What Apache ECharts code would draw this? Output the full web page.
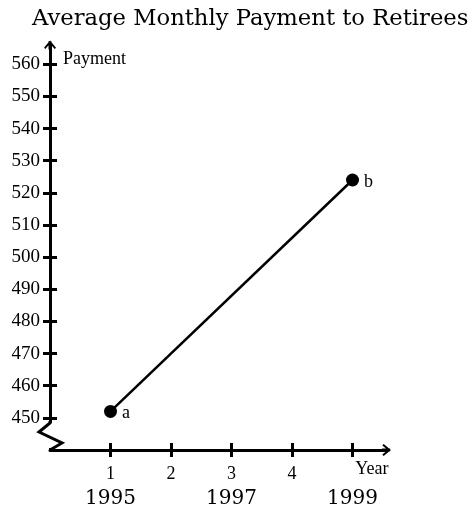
<!DOCTYPE html>
<html>
  <head>
    <meta charset="utf-8" />
    <title>Average Monthly Payment to Retirees</title>
    <style>
      html, body { margin: 0; padding: 0; background: #fff; }
      #main { width: 469px; height: 514px; }
    </style>
  </head>
  <body>
    <div id="main"></div>
    <script src="https://cdn.jsdelivr.net/npm/echarts@6/dist/echarts.min.js"></script>
    <script>
      // data
      var pointX = [1, 5];
      var payments = [452, 524];
      var pointNames = ["a", "b"];

      var xTicks = [1, 2, 3, 4, 5];
      var xTickText = ["1", "2", "3", "4", ""];
      var yearText = ["1995", "", "1997", "", "1999"];
      var yTicks = [450, 460, 470, 480, 490, 500, 510, 520, 530, 540, 550, 560];

      var serif = "Liberation Serif";
      var bookFont = "DejaVu Serif";

      // open arrow head with a short stem, pointing up
      var arrowPath =
        "path://M0,72 L60,0 L120,72 L106,86 L60,30 L14,86 Z M45,8 L75,8 L75,90 L45,90 Z";

      var dom = document.getElementById("main");
      var myChart = echarts.init(dom);

      var xRange = { min: 0, max: 5.56 };
      var yRange = { min: 440, max: 566 };

      var option = {
        animation: false,
        title: {
          text: "Average Monthly Payment to Retirees",
          left: 27,
          top: 3,
          textStyle: {
            fontFamily: bookFont,
            fontSize: 22.7,
            fontWeight: "normal",
            color: "#000",
          },
        },
        grid: {
          left: 50,
          right: 82.6,
          top: 45,
          bottom: 64,
          containLabel: false,
        },
        xAxis: [
          {
            type: "value",
            min: xRange.min,
            max: xRange.max,
            splitLine: { show: false },
            name: "Year",
            nameLocation: "end",
            nameGap: -14.5,
            nameMoveOverlap: false,
            nameTextStyle: {
              fontFamily: serif,
              fontSize: 18,
              color: "#000",
              align: "center",
              verticalAlign: "top",
              padding: [10, 0, 0, 0],
            },
            axisLine: {
              onZero: false,
              symbol: ["none", arrowPath],
              symbolSize: [12, 9],
              lineStyle: { color: "#000", width: 3 },
            },
            axisTick: {
              customValues: xTicks,
              length: 7,
              lineStyle: { color: "#000", width: 3 },
            },
            axisLabel: {
              customValues: xTicks,
              margin: 14,
              formatter: function (value) {
                var i = xTicks.indexOf(value);
                if (i < 0) return "";
                return "{n|" + (xTickText[i] || " ") + "}\n{y|" + (yearText[i] || " ") + "}";
              },
              rich: {
                n: { fontFamily: serif, fontSize: 18, color: "#000", lineHeight: 20 },
                y: { fontFamily: bookFont, fontSize: 20, color: "#000", lineHeight: 29 },
              },
            },
          },
          {
            // inner half of the ticks
            type: "value",
            position: "bottom",
            min: xRange.min,
            max: xRange.max,
            splitLine: { show: false },
            axisLine: { show: false, onZero: false },
            axisLabel: { show: false },
            axisTick: {
              customValues: xTicks,
              inside: true,
              length: 7,
              lineStyle: { color: "#000", width: 3 },
            },
          },
        ],
        yAxis: [
          {
            type: "value",
            min: yRange.min,
            max: yRange.max,
            splitLine: { show: false },
            name: "Payment",
            nameLocation: "end",
            nameGap: -14.5,
            nameMoveOverlap: false,
            nameTextStyle: {
              fontFamily: serif,
              fontSize: 18,
              color: "#000",
              align: "left",
              verticalAlign: "middle",
              padding: [0, 0, 0, 13],
            },
            axisLine: {
              onZero: false,
              symbol: ["none", arrowPath],
              symbolSize: [12, 9],
              lineStyle: { color: "#000", width: 3 },
            },
            axisTick: {
              customValues: yTicks,
              length: 7,
              lineStyle: { color: "#000", width: 3 },
            },
            axisLabel: {
              customValues: yTicks,
              margin: 10,
              fontFamily: serif,
              fontSize: 19,
              color: "#000",
            },
          },
          {
            type: "value",
            position: "left",
            min: yRange.min,
            max: yRange.max,
            splitLine: { show: false },
            axisLine: { show: false, onZero: false },
            axisLabel: { show: false },
            axisTick: {
              customValues: yTicks,
              inside: true,
              length: 7,
              lineStyle: { color: "#000", width: 3 },
            },
          },
        ],
        series: [
          {
            type: "line",
            xAxisIndex: 0,
            yAxisIndex: 0,
            data: pointX.map(function (x, i) {
              return [x, payments[i]];
            }),
            symbol: "circle",
            symbolSize: 13,
            showAllSymbol: true,
            itemStyle: { color: "#000" },
            lineStyle: { color: "#000", width: 2.5 },
            label: {
              show: true,
              position: "right",
              distance: 5,
              offset: [0, 2],
              fontFamily: serif,
              fontSize: 18,
              color: "#000",
              formatter: function (p) {
                return pointNames[p.dataIndex];
              },
            },
            z: 3,
          },
        ],
      };

      myChart.setOption(option);

      // axis break (zigzag) at the bottom of the payment axis
      var o = myChart.convertToPixel({ gridIndex: 0 }, [xRange.min, yRange.min]);
      var ox = o[0];
      var oy = o[1];
      myChart.setOption({
        graphic: [
          {
            type: "rect",
            z: 100,
            shape: { x: ox - 3, y: oy - 27, width: 6, height: 25 },
            style: { fill: "#fff" },
          },
          {
            type: "polyline",
            z: 101,
            shape: {
              points: [
                [ox, oy - 29],
                [ox, oy - 27],
                [ox - 11, oy - 18],
                [ox + 12, oy - 7],
                [ox, oy],
              ],
            },
            style: { stroke: "#000", lineWidth: 3, fill: null, lineJoin: "miter" },
          },
        ],
      });

      window.addEventListener("resize", function () {
        myChart.resize();
      });
    </script>
  </body>
</html>
